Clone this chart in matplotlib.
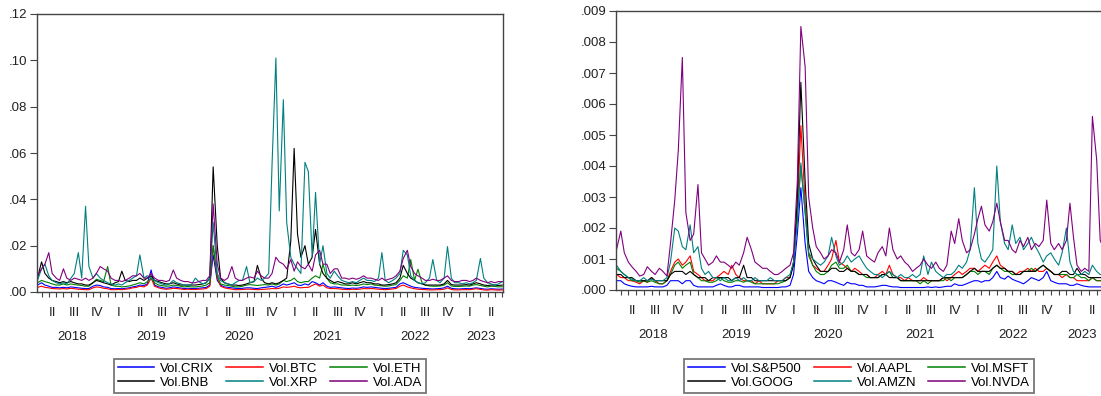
import matplotlib
matplotlib.use("Agg")
import matplotlib.pyplot as plt
import matplotlib.dates as mdates
import numpy as np
import pandas as pd

plt.rcParams['font.family'] = ['Liberation Sans', 'DejaVu Sans']

# semi-monthly observations (1st and 15th), 2018-03-15 .. 2023-07-01
# each line below = one quarter (6 values), first value = 2018-03-15, last = 2023-07-01
dates = pd.date_range("2018-03-01", "2023-07-01", freq="SMS")[1:]

# ---- left panel: crypto volatilities ----
crypto_names = ["Vol.CRIX", "Vol.BTC", "Vol.ETH", "Vol.BNB", "Vol.XRP", "Vol.ADA"]
crypto_colors = ["#0000ff", "#ff0000", "#008000", "#000000", "#008080", "#800080"]

vol_crix = [0.003,
    0.004, 0.003, 0.0025, 0.002, 0.002, 0.0018,
    0.002, 0.0018, 0.0022, 0.002, 0.0018, 0.0016,
    0.0015, 0.0015, 0.0025, 0.003, 0.0028, 0.0022,
    0.002, 0.0015, 0.0014, 0.0015, 0.0014, 0.0016,
    0.0018, 0.0022, 0.0025, 0.003, 0.0028, 0.0035,
    0.0095, 0.003, 0.0022, 0.002, 0.0016, 0.0018,
    0.0022, 0.002, 0.0017, 0.0015, 0.0016, 0.0015,
    0.0015, 0.0016, 0.0018, 0.002, 0.003, 0.016,
    0.005, 0.003, 0.0022, 0.002, 0.0018, 0.0016,
    0.0015, 0.0016, 0.0018, 0.0018, 0.0016, 0.0015,
    0.0018, 0.002, 0.0022, 0.0025, 0.002, 0.0025,
    0.0035, 0.003, 0.0035, 0.004, 0.003, 0.0028,
    0.0035, 0.003, 0.0045, 0.004, 0.003, 0.004,
    0.0025, 0.002, 0.0022, 0.002, 0.0018, 0.0016,
    0.0015, 0.0017, 0.0016, 0.0018, 0.0022, 0.002,
    0.0022, 0.002, 0.0018, 0.0016, 0.0015, 0.0016,
    0.0018, 0.002, 0.0035, 0.004, 0.0032, 0.0025,
    0.002, 0.0018, 0.0016, 0.0015, 0.0014, 0.0013,
    0.0014, 0.0015, 0.0018, 0.0025, 0.0016, 0.0014,
    0.0013, 0.0014, 0.0015, 0.0014, 0.0016, 0.0018,
    0.0015, 0.0013, 0.0012, 0.0014, 0.0013, 0.0012,
    0.0013]

vol_btc = [0.002,
    0.0025, 0.002, 0.0018, 0.0015, 0.0014, 0.0013,
    0.0015, 0.0013, 0.0016, 0.0014, 0.0012, 0.0011,
    0.001, 0.001, 0.0018, 0.0022, 0.002, 0.0016,
    0.0014, 0.001, 0.001, 0.0011, 0.001, 0.0012,
    0.0014, 0.0018, 0.002, 0.0025, 0.0022, 0.003,
    0.006, 0.0025, 0.0018, 0.0014, 0.0012, 0.0013,
    0.0016, 0.0015, 0.0013, 0.0011, 0.0012, 0.0011,
    0.0011, 0.0012, 0.0013, 0.0015, 0.0025, 0.020,
    0.006, 0.0025, 0.0018, 0.0015, 0.0012, 0.001,
    0.001, 0.0011, 0.0012, 0.0012, 0.0011, 0.001,
    0.0011, 0.0012, 0.0013, 0.0015, 0.0014, 0.0016,
    0.0022, 0.002, 0.0022, 0.0025, 0.002, 0.0018,
    0.002, 0.002, 0.0028, 0.0035, 0.0025, 0.003,
    0.0018, 0.0015, 0.0015, 0.0014, 0.0012, 0.0011,
    0.001, 0.0012, 0.0011, 0.0012, 0.0015, 0.0014,
    0.0015, 0.0014, 0.0012, 0.0011, 0.001, 0.0011,
    0.0013, 0.0015, 0.0025, 0.003, 0.0022, 0.0018,
    0.0014, 0.0012, 0.0011, 0.001, 0.0009, 0.0009,
    0.001, 0.001, 0.0012, 0.0018, 0.0011, 0.0009,
    0.0009, 0.001, 0.001, 0.001, 0.0012, 0.0014,
    0.0011, 0.0009, 0.0008, 0.001, 0.0009, 0.0008,
    0.0009]

vol_eth = [0.004,
    0.005, 0.0045, 0.004, 0.0035, 0.003, 0.003,
    0.0035, 0.003, 0.0035, 0.0032, 0.003, 0.0028,
    0.0025, 0.0025, 0.004, 0.0055, 0.005, 0.0045,
    0.011, 0.003, 0.0025, 0.0025, 0.0022, 0.0024,
    0.0026, 0.003, 0.0035, 0.004, 0.0035, 0.0045,
    0.006, 0.004, 0.003, 0.0028, 0.0025, 0.0026,
    0.003, 0.0028, 0.0025, 0.0022, 0.0024, 0.0022,
    0.0022, 0.0024, 0.0026, 0.003, 0.004, 0.020,
    0.007, 0.0035, 0.003, 0.0028, 0.0025, 0.0022,
    0.0022, 0.0025, 0.003, 0.0032, 0.003, 0.0028,
    0.003, 0.0032, 0.003, 0.0035, 0.003, 0.0035,
    0.005, 0.0045, 0.005, 0.006, 0.0045, 0.004,
    0.0045, 0.0045, 0.006, 0.007, 0.006, 0.012,
    0.006, 0.004, 0.0035, 0.0035, 0.003, 0.003,
    0.0028, 0.003, 0.0028, 0.003, 0.0035, 0.0032,
    0.0035, 0.003, 0.0028, 0.0026, 0.0025, 0.0026,
    0.003, 0.0032, 0.005, 0.007, 0.006, 0.014,
    0.005, 0.0098, 0.004, 0.003, 0.0026, 0.0025,
    0.0025, 0.0026, 0.003, 0.004, 0.0026, 0.0024,
    0.0024, 0.0025, 0.0026, 0.0025, 0.003, 0.0032,
    0.0028, 0.0025, 0.0022, 0.0025, 0.0024, 0.0022,
    0.0023]

vol_bnb = [0.006,
    0.013, 0.008, 0.006, 0.005, 0.0045, 0.004,
    0.0045, 0.004, 0.0045, 0.004, 0.0035, 0.0035,
    0.003, 0.003, 0.004, 0.005, 0.0045, 0.004,
    0.0035, 0.003, 0.004, 0.0045, 0.009, 0.005,
    0.0045, 0.005, 0.005, 0.006, 0.005, 0.006,
    0.007, 0.005, 0.0045, 0.004, 0.0035, 0.0035,
    0.004, 0.0035, 0.003, 0.003, 0.003, 0.003,
    0.003, 0.0032, 0.0035, 0.004, 0.006, 0.054,
    0.02, 0.006, 0.004, 0.0035, 0.003, 0.003,
    0.0028, 0.003, 0.0035, 0.004, 0.0045, 0.0115,
    0.006, 0.004, 0.0035, 0.004, 0.0035, 0.004,
    0.005, 0.006, 0.022, 0.062, 0.025, 0.015,
    0.02, 0.012, 0.015, 0.027, 0.012, 0.008,
    0.006, 0.005, 0.004, 0.0045, 0.004, 0.0035,
    0.0035, 0.004, 0.0035, 0.004, 0.0045, 0.004,
    0.004, 0.0035, 0.0035, 0.003, 0.003, 0.0032,
    0.0035, 0.004, 0.006, 0.0115, 0.008, 0.006,
    0.005, 0.004, 0.0035, 0.003, 0.003, 0.003,
    0.003, 0.003, 0.0035, 0.005, 0.0032, 0.003,
    0.003, 0.003, 0.0032, 0.003, 0.0035, 0.004,
    0.0035, 0.003, 0.0028, 0.003, 0.003, 0.0028,
    0.003]

vol_xrp = [0.005,
    0.01, 0.012, 0.007, 0.005, 0.004, 0.0035,
    0.004, 0.0035, 0.006, 0.008, 0.017, 0.006,
    0.037, 0.011, 0.006, 0.008, 0.006, 0.005,
    0.004, 0.0035, 0.003, 0.0035, 0.003, 0.004,
    0.005, 0.006, 0.007, 0.016, 0.006, 0.007,
    0.006, 0.005, 0.004, 0.0035, 0.003, 0.0035,
    0.005, 0.004, 0.0035, 0.003, 0.003, 0.003,
    0.006, 0.0045, 0.0035, 0.004, 0.006, 0.030,
    0.008, 0.005, 0.004, 0.0035, 0.003, 0.004,
    0.005, 0.005, 0.011, 0.004, 0.0045, 0.006,
    0.005, 0.006, 0.008, 0.055, 0.101, 0.035,
    0.083, 0.03, 0.015, 0.012, 0.01, 0.008,
    0.056, 0.052, 0.015, 0.043, 0.012, 0.02,
    0.008, 0.006, 0.009, 0.007, 0.005, 0.0045,
    0.004, 0.0045, 0.004, 0.005, 0.006, 0.005,
    0.005, 0.0045, 0.006, 0.017, 0.005, 0.004,
    0.005, 0.006, 0.008, 0.018, 0.016, 0.007,
    0.005, 0.004, 0.0035, 0.004, 0.006, 0.014,
    0.005, 0.004, 0.006, 0.0196, 0.006, 0.004,
    0.004, 0.0035, 0.004, 0.0035, 0.004, 0.005,
    0.0145, 0.006, 0.004, 0.0035, 0.003, 0.0035,
    0.0045]

vol_ada = [0.007,
    0.01, 0.012, 0.017, 0.008, 0.006, 0.005,
    0.010, 0.006, 0.005, 0.006, 0.0055, 0.005,
    0.006, 0.005, 0.006, 0.008, 0.011, 0.01,
    0.009, 0.006, 0.005, 0.005, 0.0045, 0.005,
    0.006, 0.007, 0.007, 0.008, 0.006, 0.006,
    0.008, 0.006, 0.005, 0.005, 0.0045, 0.005,
    0.0095, 0.006, 0.005, 0.0045, 0.0045, 0.004,
    0.004, 0.0045, 0.005, 0.005, 0.007, 0.038,
    0.012, 0.006, 0.005, 0.006, 0.011, 0.006,
    0.005, 0.005, 0.006, 0.0065, 0.006, 0.009,
    0.007, 0.006, 0.006, 0.008, 0.015, 0.013,
    0.012, 0.01, 0.014, 0.009, 0.013, 0.011,
    0.01, 0.012, 0.009, 0.016, 0.018, 0.012,
    0.012, 0.008, 0.01, 0.01, 0.006, 0.006,
    0.0055, 0.006, 0.0055, 0.006, 0.007, 0.006,
    0.006, 0.0055, 0.005, 0.006, 0.005, 0.0055,
    0.006, 0.007, 0.009, 0.0145, 0.018, 0.011,
    0.008, 0.007, 0.006, 0.005, 0.005, 0.0055,
    0.005, 0.005, 0.006, 0.007, 0.005, 0.0045,
    0.0045, 0.005, 0.005, 0.0045, 0.005, 0.006,
    0.005, 0.0045, 0.004, 0.0045, 0.004, 0.0045,
    0.0045]

# ---- right panel: stock volatilities ----
stock_names = ["Vol.S&P500", "Vol.AAPL", "Vol.MSFT", "Vol.GOOG", "Vol.AMZN", "Vol.NVDA"]
stock_colors = ["#0000ff", "#ff0000", "#008000", "#000000", "#008080", "#800080"]

vol_sp500 = [0.0003,
    0.0003, 0.0002, 0.00015, 0.00012, 0.0001, 0.0001,
    0.0001, 0.0001, 0.00012, 0.0001, 0.0001, 0.0001,
    0.00015, 0.0003, 0.0003, 0.0003, 0.0002, 0.0003,
    0.0003, 0.00015, 0.0001, 0.0001, 0.0001, 0.0001,
    0.0001, 0.00015, 0.0002, 0.00015, 0.0001, 0.0001,
    0.00015, 0.00015, 0.0001, 0.0001, 0.0001, 0.0001,
    0.0001, 0.00008, 0.00008, 0.00008, 0.00008, 0.00008,
    0.0001, 0.0001, 0.00015, 0.0005, 0.0018, 0.0033,
    0.0015, 0.0006, 0.0004, 0.0003, 0.00025, 0.0002,
    0.0003, 0.0003, 0.00025, 0.0002, 0.00015, 0.00025,
    0.0002, 0.0002, 0.00015, 0.00015, 0.0001, 0.0001,
    0.0001, 0.00012, 0.00015, 0.00015, 0.00012, 0.0001,
    0.0001, 0.00008, 0.00008, 0.00008, 0.00008, 0.00008,
    0.00008, 0.00008, 0.0001, 0.00008, 0.0001, 0.00008,
    0.0001, 0.00012, 0.00012, 0.0002, 0.00015, 0.00015,
    0.0002, 0.00025, 0.0003, 0.0003, 0.00025, 0.0003,
    0.0003, 0.0004, 0.0006, 0.0004, 0.00035, 0.00045,
    0.00035, 0.0003, 0.00025, 0.0002, 0.0003, 0.0004,
    0.00035, 0.0003, 0.0004, 0.0006, 0.0003, 0.00025,
    0.0002, 0.0002, 0.0002, 0.00015, 0.00015, 0.0002,
    0.00015, 0.00012, 0.0001, 0.0001, 0.0001, 0.0001,
    0.0001]

vol_aapl = [0.0005,
    0.0004, 0.0004, 0.0003, 0.0003, 0.00025, 0.0002,
    0.0003, 0.00025, 0.0004, 0.0003, 0.0002, 0.0002,
    0.0003, 0.0006, 0.0009, 0.001, 0.0008, 0.0009,
    0.0011, 0.0006, 0.0005, 0.0004, 0.0003, 0.0003,
    0.0003, 0.0004, 0.0005, 0.0006, 0.0005, 0.0008,
    0.0005, 0.0004, 0.0003, 0.0003, 0.0003, 0.0002,
    0.0003, 0.0002, 0.0002, 0.0002, 0.0002, 0.0003,
    0.0003, 0.0004, 0.0004, 0.0009, 0.0025, 0.0053,
    0.0028, 0.0012, 0.0008, 0.0007, 0.0006, 0.0006,
    0.0008, 0.001, 0.0016, 0.0009, 0.0008, 0.0007,
    0.0006, 0.0007, 0.0006, 0.0005, 0.0005, 0.0004,
    0.0004, 0.0005, 0.0006, 0.0005, 0.0008, 0.0005,
    0.0004, 0.0004, 0.0003, 0.0004, 0.0003, 0.0003,
    0.0003, 0.0004, 0.0003, 0.0003, 0.0003, 0.0003,
    0.0004, 0.0003, 0.0004, 0.0005, 0.0006, 0.0005,
    0.0006, 0.0007, 0.0007, 0.0006, 0.0007, 0.0008,
    0.0007, 0.0009, 0.0011, 0.0008, 0.0007, 0.0006,
    0.0006, 0.0005, 0.0006, 0.0006, 0.0007, 0.0006,
    0.0007, 0.0006, 0.0006, 0.0007, 0.0006, 0.0005,
    0.0005, 0.0004, 0.0005, 0.0004, 0.0004, 0.0003,
    0.0003, 0.0003, 0.0003, 0.0004, 0.0003, 0.0003,
    0.0003]

vol_msft = [0.0007,
    0.0006, 0.0005, 0.0004, 0.0003, 0.0003, 0.00025,
    0.0003, 0.00025, 0.0003, 0.00025, 0.0002, 0.0002,
    0.0003, 0.0005, 0.0008, 0.0009, 0.0007, 0.0008,
    0.0009, 0.0005, 0.0004, 0.0003, 0.0003, 0.00025,
    0.00025, 0.0003, 0.0004, 0.0003, 0.00025, 0.00025,
    0.0003, 0.0003, 0.00025, 0.0003, 0.00025, 0.0002,
    0.0002, 0.0002, 0.0002, 0.0002, 0.0002, 0.0002,
    0.00025, 0.0003, 0.0004, 0.0009, 0.0025, 0.004,
    0.0025, 0.0011, 0.0008, 0.0006, 0.0005, 0.0005,
    0.0006, 0.0008, 0.0009, 0.0007, 0.0007, 0.0008,
    0.0006, 0.0006, 0.0005, 0.0005, 0.0004, 0.0004,
    0.0004, 0.0004, 0.0005, 0.0005, 0.0006, 0.0004,
    0.0004, 0.0003, 0.0003, 0.0003, 0.0003, 0.0003,
    0.0002, 0.0003, 0.0002, 0.0003, 0.0003, 0.0003,
    0.0003, 0.0004, 0.0003, 0.0004, 0.0004, 0.0004,
    0.0005, 0.0006, 0.0006, 0.0005, 0.0006, 0.0006,
    0.0005, 0.0007, 0.0008, 0.0007, 0.0006, 0.0006,
    0.0005, 0.0005, 0.0005, 0.0006, 0.0006, 0.0007,
    0.0006, 0.0007, 0.0008, 0.0007, 0.0006, 0.0005,
    0.0005, 0.0005, 0.0005, 0.0004, 0.0004, 0.0005,
    0.0004, 0.0004, 0.0003, 0.0004, 0.0003, 0.0003,
    0.0003]

vol_goog = [0.0005,
    0.0005, 0.0004, 0.0004, 0.0004, 0.0003, 0.0003,
    0.0003, 0.0003, 0.0004, 0.0003, 0.0003, 0.0003,
    0.0003, 0.0005, 0.0006, 0.0006, 0.0006, 0.0005,
    0.0006, 0.0005, 0.0004, 0.0004, 0.0004, 0.0003,
    0.0004, 0.0004, 0.0004, 0.0004, 0.0004, 0.0003,
    0.0004, 0.0004, 0.0008, 0.0004, 0.0004, 0.0003,
    0.0003, 0.0003, 0.0003, 0.0003, 0.0003, 0.0003,
    0.0003, 0.0003, 0.0004, 0.0008, 0.003, 0.0067,
    0.0035, 0.0015, 0.001, 0.0008, 0.0006, 0.0006,
    0.0006, 0.0007, 0.0007, 0.0006, 0.0006, 0.0007,
    0.0006, 0.0006, 0.0005, 0.0005, 0.0005, 0.0004,
    0.0004, 0.0004, 0.0005, 0.0005, 0.0004, 0.0004,
    0.0004, 0.0003, 0.0003, 0.0003, 0.0003, 0.0003,
    0.0003, 0.0003, 0.0003, 0.0003, 0.0003, 0.0003,
    0.0004, 0.0004, 0.0004, 0.0004, 0.0004, 0.0004,
    0.0005, 0.0006, 0.0007, 0.0006, 0.0006, 0.0006,
    0.0006, 0.0007, 0.0008, 0.0007, 0.0007, 0.0006,
    0.0006, 0.0005, 0.0005, 0.0006, 0.0006, 0.0006,
    0.0006, 0.0007, 0.0008, 0.0007, 0.0006, 0.0005,
    0.0005, 0.0006, 0.0006, 0.0005, 0.0005, 0.0007,
    0.0005, 0.0005, 0.0004, 0.0004, 0.0004, 0.0004,
    0.0004]

vol_amzn = [0.0008,
    0.0006, 0.0005, 0.0004, 0.00035, 0.0003, 0.0003,
    0.0004, 0.0003, 0.00035, 0.0003, 0.0003, 0.0003,
    0.0004, 0.0009, 0.002, 0.0019, 0.0014, 0.0013,
    0.0021, 0.0012, 0.0014, 0.0007, 0.0005, 0.0006,
    0.0004, 0.0004, 0.0003, 0.0004, 0.0003, 0.0003,
    0.0004, 0.0003, 0.0004, 0.0003, 0.0003, 0.0004,
    0.0003, 0.0003, 0.0003, 0.0004, 0.0003, 0.0003,
    0.0003, 0.0004, 0.0005, 0.0009, 0.0022, 0.0041,
    0.0025, 0.0012, 0.001, 0.0009, 0.0008, 0.0009,
    0.0011, 0.0017, 0.0011, 0.0008, 0.0009, 0.0011,
    0.0009, 0.001, 0.0011, 0.0009, 0.0007, 0.0006,
    0.0005, 0.0005, 0.0004, 0.0005, 0.0006, 0.0005,
    0.0004, 0.0005, 0.0004, 0.0004, 0.0005, 0.0004,
    0.0005, 0.0011, 0.0005, 0.0009, 0.0006, 0.0005,
    0.0004, 0.0005, 0.0005, 0.0006, 0.0008, 0.0007,
    0.0009, 0.0013, 0.0033, 0.0015, 0.001, 0.0009,
    0.0011, 0.0013, 0.004, 0.0022, 0.0015, 0.0013,
    0.0021, 0.0015, 0.0017, 0.0013, 0.0015, 0.0017,
    0.0014, 0.0012, 0.0009, 0.0011, 0.0012, 0.001,
    0.0008, 0.0012, 0.002, 0.0009, 0.0006, 0.0005,
    0.0005, 0.0006, 0.0005, 0.0008, 0.0006, 0.0005,
    0.0005]

vol_nvda = [0.0013,
    0.0019, 0.0012, 0.0009, 0.00075, 0.0006, 0.00045,
    0.0005, 0.00075, 0.0006, 0.0005, 0.0007, 0.0006,
    0.00045, 0.0015, 0.0029, 0.0045, 0.0075, 0.0025,
    0.0016, 0.0018, 0.0034, 0.0012, 0.001, 0.0008,
    0.0009, 0.0011, 0.0009, 0.0009, 0.0008, 0.0007,
    0.0009, 0.0008, 0.0012, 0.0017, 0.0013, 0.0009,
    0.0008, 0.0007, 0.0007, 0.0006, 0.0005, 0.0005,
    0.0006, 0.0007, 0.0008, 0.0012, 0.0035, 0.0085,
    0.0072, 0.003, 0.002, 0.0014, 0.0012, 0.001,
    0.0011, 0.0013, 0.0012, 0.0009, 0.0013, 0.0021,
    0.0012, 0.0011, 0.0013, 0.0019, 0.0011, 0.001,
    0.0009, 0.0012, 0.0014, 0.0011, 0.002, 0.0013,
    0.001, 0.0011, 0.0009, 0.0008, 0.0006, 0.0007,
    0.0008, 0.001, 0.0008, 0.0007, 0.0009, 0.0007,
    0.0006, 0.0008, 0.0019, 0.0015, 0.0023, 0.0016,
    0.0012, 0.0013, 0.0018, 0.0023, 0.0027, 0.0021,
    0.0019, 0.0022, 0.0028, 0.0022, 0.0016, 0.0016,
    0.0013, 0.0012, 0.0016, 0.0014, 0.0017, 0.0013,
    0.0015, 0.0014, 0.0016, 0.0029, 0.0015, 0.0013,
    0.0015, 0.0013, 0.0016, 0.0028, 0.0017, 0.0008,
    0.0006, 0.0007, 0.0006, 0.0056, 0.0042, 0.0016,
    0.0013]

crypto_data = [vol_crix, vol_btc, vol_eth, vol_bnb, vol_xrp, vol_ada]
stock_data = [vol_sp500, vol_aapl, vol_msft, vol_goog, vol_amzn, vol_nvda]

x_start = pd.Timestamp("2018-03-13")
x_end = pd.Timestamp("2023-07-04")
roman = {1: "I", 2: "II", 3: "III", 4: "IV"}
frame_col = "#444444"


def draw_panel(ax, names, data, colors, ymax, step, fmt, legend_x):
    for name, vals, col in zip(names, data, colors):
        if len(vals) != len(dates):
            raise ValueError(f"{name}: {len(vals)} values, expected {len(dates)}")
        ax.plot(dates, vals, color=col, lw=0.8, label=name)

    ax.set_xlim(x_start, x_end)
    ax.set_ylim(0, ymax)
    ax.set_yticks(np.arange(0, ymax + step / 2, step))
    ax.yaxis.set_major_formatter(plt.FuncFormatter(lambda v, p: (fmt % v).lstrip("0")))
    ax.xaxis.set_major_locator(mdates.MonthLocator())
    ax.xaxis.set_major_formatter(plt.NullFormatter())
    ax.tick_params(axis="x", direction="out", length=3.5, width=0.8, color=frame_col)
    ax.tick_params(axis="y", direction="out", length=5, width=0.8, color=frame_col,
                   labelsize=9.5, pad=2, labelcolor="#222222")
    for s in ax.spines.values():
        s.set_color(frame_col)
        s.set_linewidth(1.0)

    # quarter labels
    for q in pd.period_range("2018Q2", "2023Q2", freq="Q"):
        mid = q.start_time + (q.end_time - q.start_time) / 2
        ax.annotate(roman[q.quarter], xy=(mdates.date2num(mid), 0),
                    xycoords=("data", "axes fraction"), xytext=(0, -21),
                    textcoords="offset pixels", ha="center", va="center",
                    fontsize=9.5, color="#222222")
    # year labels
    for yr in range(2018, 2024):
        a = max(pd.Timestamp(f"{yr}-01-01"), x_start)
        b = min(pd.Timestamp(f"{yr + 1}-01-01"), x_end)
        mid = a + (b - a) / 2
        ax.annotate(str(yr), xy=(mdates.date2num(mid), 0),
                    xycoords=("data", "axes fraction"), xytext=(0, -45),
                    textcoords="offset pixels", ha="center", va="center",
                    fontsize=9.5, color="#222222")

    h, l = ax.get_legend_handles_labels()
    order = [0, 3, 1, 4, 2, 5]
    leg = ax.legend([h[i] for i in order], [l[i] for i in order], ncol=3,
                    loc="upper center", bbox_to_anchor=(legend_x, 1 - 352 / 396),
                    bbox_transform=fig.transFigure, fontsize=9.5, frameon=True,
                    fancybox=False, edgecolor="#555555", handlelength=2.8,
                    handletextpad=0.45, columnspacing=0.9, labelspacing=0.12,
                    borderpad=0.3)
    leg.get_frame().set_linewidth(1.3)
    for ln in leg.get_lines():
        ln.set_linewidth(1.1)


fig = plt.figure(figsize=(11.01, 3.96), dpi=100)
W, H = 1101, 396
ax1 = fig.add_axes([37 / W, (H - 292) / H, 466 / W, 278 / H])
ax2 = fig.add_axes([616 / W, (H - 290) / H, 489 / W, 279 / H])

draw_panel(ax1, crypto_names, crypto_data, crypto_colors, 0.12, 0.02, "%.2f", 270 / W)
draw_panel(ax2, stock_names, stock_data, stock_colors, 0.009, 0.001, "%.3f", 859 / W)

fig.savefig("out.png", dpi=100)
